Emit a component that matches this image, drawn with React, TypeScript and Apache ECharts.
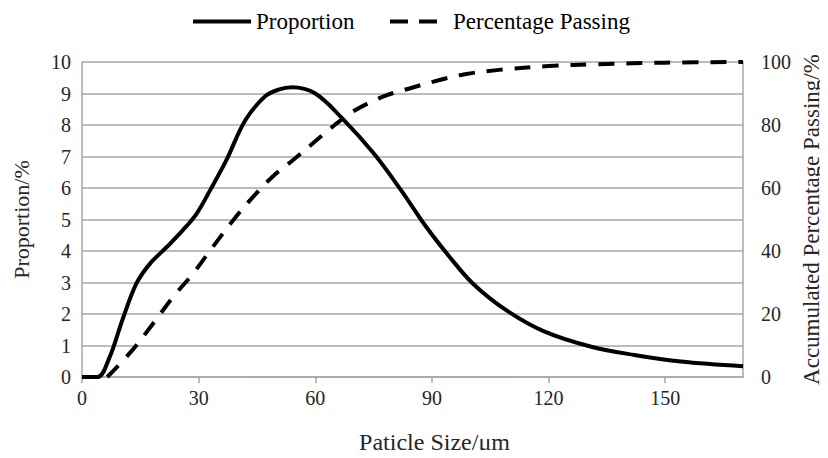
import React, { useEffect, useRef } from "react";
import * as echarts from "echarts";

const proportionX = [0, 4, 7, 10.5, 14, 17.5, 22, 26, 29.5, 33, 37, 42, 47, 50.5, 54, 60, 67, 75, 82, 88.5, 94.5, 100.5, 109, 119, 131, 142, 154, 170];
const proportionY = [0, 0, 0.6, 1.85, 2.97, 3.6, 4.15, 4.67, 5.19, 5.94, 6.85, 8.15, 8.9, 9.12, 9.2, 9.0, 8.2, 7.1, 5.94, 4.77, 3.82, 2.97, 2.13, 1.44, 0.96, 0.7, 0.49, 0.34];

const passingX = [6.5, 13, 18.3, 23.5, 28.6, 33.7, 38.9, 44, 49, 54.3, 59.4, 65, 70, 77.4, 84.2, 92, 98.8, 107.3, 120, 133, 150, 170];
const passingY = [0, 8.6, 17, 25.5, 32.9, 41.4, 49.8, 57.2, 63.6, 68.9, 74.2, 80, 84.5, 89, 91.6, 94.3, 96.2, 97.5, 98.7, 99.3, 99.8, 100];

const seriesNames = ["Proportion", "Percentage Passing"];
const xTitle = "Paticle Size/μm";
const yLeftTitle = "Proportion/%";
const yRightTitle = "Accumulated Percentage Passing/%";

const FONT = "'Liberation Serif', 'Times New Roman', serif";
const GRAY = "#a6a6a6";
const TXT = "#262626";

export default function App() {
  const ref = useRef<HTMLDivElement>(null);
  useEffect(() => {
    if (!ref.current) return;
    const chart = echarts.init(ref.current, undefined, { renderer: "svg" });
    const legendText = { fontFamily: FONT, fontSize: 23, color: "#000" };
    chart.setOption({
      animation: false,
      textStyle: { fontFamily: FONT },
      legend: [
        {
          top: 5,
          left: 188,
          itemWidth: 58,
          itemHeight: 4,
          icon: "rect",
          textStyle: legendText,
          data: [seriesNames[0]],
        },
        {
          top: 5,
          left: 385,
          itemWidth: 47,
          itemHeight: 4,
          icon: "path://M0,0H18V4H0Z M29,0H47V4H29Z",
          textStyle: { ...legendText, padding: [0, 0, 0, 11] },
          data: [seriesNames[1]],
        },
      ],
      grid: { left: 82, right: 85, top: 62, bottom: 81, containLabel: false, outerBoundsMode: "none" },
      xAxis: {
        type: "value",
        min: 0,
        max: 170,
        interval: 30,
        name: xTitle,
        nameLocation: "middle",
        nameGap: 53,
        nameMoveOverlap: false,
        nameTextStyle: { fontFamily: FONT, fontSize: 24, color: TXT, padding: [0, 0, 0, 44] },
        axisLine: { show: true, lineStyle: { color: GRAY, width: 1.5 } },
        axisTick: { show: true, length: 6, lineStyle: { color: GRAY, width: 1.5 } },
        splitLine: { show: false },
        axisLabel: { showMaxLabel: false, fontFamily: FONT, fontSize: 20, color: TXT, margin: 11 },
      },
      yAxis: [
        {
          type: "value",
          min: 0,
          max: 10,
          interval: 1,
          name: yLeftTitle,
          nameLocation: "middle",
          nameRotate: 90,
          nameGap: 50,
          nameMoveOverlap: false,
          nameTextStyle: { fontFamily: FONT, fontSize: 22, color: TXT },
          axisLine: { show: true, lineStyle: { color: GRAY, width: 1.5 } },
          axisTick: { show: false },
          splitLine: { show: true, lineStyle: { color: GRAY, width: 1.5 } },
          axisLabel: { fontFamily: FONT, fontSize: 20, color: TXT, margin: 11 },
        },
        {
          type: "value",
          min: 0,
          max: 100,
          interval: 20,
          name: yRightTitle,
          nameLocation: "middle",
          nameRotate: 90,
          nameGap: 57,
          nameMoveOverlap: false,
          nameTextStyle: { fontFamily: FONT, fontSize: 23, color: TXT },
          axisLine: { show: true, lineStyle: { color: GRAY, width: 1.5 } },
          axisTick: { show: false },
          splitLine: { show: false },
          axisLabel: { fontFamily: FONT, fontSize: 20, color: TXT, margin: 18 },
        },
      ],
      series: [
        {
          name: seriesNames[0],
          type: "line",
          yAxisIndex: 0,
          smooth: 0.35,
          symbol: "none",
          lineStyle: { color: "#000", width: 4 },
          itemStyle: { color: "#000" },
          data: proportionX.map((x, i) => [x, proportionY[i]]),
        },
        {
          name: seriesNames[1],
          type: "line",
          yAxisIndex: 1,
          smooth: 0.35,
          symbol: "none",
          lineStyle: { color: "#000", width: 4, type: [16, 12] },
          itemStyle: { color: "#000" },
          data: passingX.map((x, i) => [x, passingY[i]]),
        },
      ],
    });
    return () => chart.dispose();
  }, []);
  return <div ref={ref} style={{ width: 828, height: 458, margin: -8 }} />;
}
